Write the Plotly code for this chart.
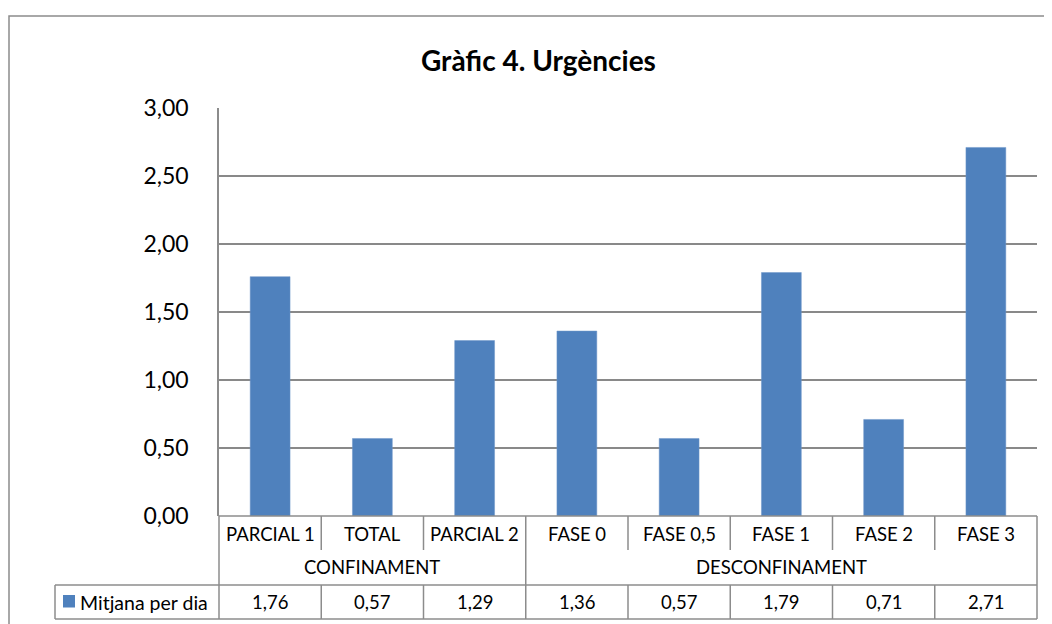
import plotly.graph_objects as go

categories = ["PARCIAL 1", "TOTAL", "PARCIAL 2", "FASE 0", "FASE 0,5", "FASE 1", "FASE 2", "FASE 3"]
groups = ["CONFINAMENT", "DESCONFINAMENT"]
group_sizes = [3, 5]
values = [1.76, 0.57, 1.29, 1.36, 0.57, 1.79, 0.71, 2.71]
series_name = "Mitjana per dia"
title_text = "Gràfic 4. Urgències"

FONT = "Lato"
BAR = "#4F81BD"
GRID = "#898989"
LINE = "#8C8C8C"

# page body margin (the html page places the figure 8px from the corner)
OFF = 8
W_FIG, H_FIG = 1052, 624
# target page pixel positions of the plot area
P_LEFT, P_RIGHT, P_TOP, P_BOT = 219, 1037, 108, 516
L = P_LEFT - OFF
R = W_FIG - (P_RIGHT - OFF)
T = P_TOP - OFF
B = H_FIG - (P_BOT - OFF)
PW = P_RIGHT - P_LEFT
PH = P_BOT - P_TOP


def px(x):
    return (x - P_LEFT) / PW


def py(y):
    return (P_BOT - y) / PH


n = len(categories)

fig = go.Figure()
fig.add_trace(go.Bar(
    x=list(range(n)), y=values, name=series_name,
    marker=dict(color=BAR, line=dict(color="#6F97C9", width=0.5)),
    width=0.39, showlegend=False, hoverinfo="skip",
))

shapes = []
annotations = []

row1_bot = 550
row2_bot = 585
row3_bot = 619


def vline(xp, y0, y1):
    shapes.append(dict(type="line", xref="paper", yref="paper", x0=xp, x1=xp,
                       y0=py(y0), y1=py(y1), line=dict(color=LINE, width=1.5)))


def hline(x0, x1, y):
    shapes.append(dict(type="line", xref="paper", yref="paper", x0=x0, x1=x1,
                       y0=py(y), y1=py(y), line=dict(color=LINE, width=1.5)))


# outer chart border
shapes.append(dict(type="rect", xref="paper", yref="paper", x0=px(9), x1=px(1075),
                   y0=py(645), y1=py(16), line=dict(color=LINE, width=1.5),
                   fillcolor="rgba(0,0,0,0)", layer="below"))

group_bounds = [0]
for s in group_sizes:
    group_bounds.append(group_bounds[-1] + s)

for i in range(n + 1):
    xb = i / n
    if i in group_bounds:
        vline(xb, P_BOT, row3_bot)
    else:
        vline(xb, P_BOT, row1_bot)
        vline(xb, row2_bot, row3_bot)

hline(0, 1, P_BOT)
hline(px(55), 1, row2_bot)
hline(px(55), 1, row3_bot)
vline(px(55), row2_bot, row3_bot)

TXT = dict(family=FONT, size=18.5, color="#000")

# legend key
shapes.append(dict(type="rect", xref="paper", yref="paper", x0=px(63), x1=px(75),
                   y0=py(607.5), y1=py(595), line=dict(width=0), fillcolor=BAR))
annotations.append(dict(text=series_name, xref="paper", yref="paper", x=px(78), y=py(602),
                        xanchor="left", yanchor="middle", showarrow=False,
                        font=dict(family=FONT, size=19.5, color="#000")))

for i, (c, v) in enumerate(zip(categories, values)):
    xc = (i + 0.5) / n
    annotations.append(dict(text=c, xref="paper", yref="paper", x=xc, y=py(534),
                            xanchor="center", yanchor="middle", showarrow=False, font=TXT))
    annotations.append(dict(text=f"{v:.2f}".replace(".", ","), xref="paper", yref="paper",
                            x=xc, y=py(602), xanchor="center", yanchor="middle",
                            showarrow=False, font=TXT))

for g, a, b in zip(groups, group_bounds[:-1], group_bounds[1:]):
    annotations.append(dict(text=g, xref="paper", yref="paper", x=(a + b) / 2 / n, y=py(567),
                            xanchor="center", yanchor="middle", showarrow=False, font=TXT))

annotations.append(dict(text=f"<b>{title_text}</b>", xref="paper", yref="paper",
                        x=px(538), y=py(60), xanchor="center", yanchor="middle",
                        showarrow=False, font=dict(family=FONT, size=28, color="#000")))

fig.update_layout(
    width=W_FIG, height=H_FIG,
    margin=dict(l=L, r=R, t=T, b=B, pad=0),
    paper_bgcolor="white", plot_bgcolor="white",
    separators=",.",
    shapes=shapes, annotations=annotations,
    xaxis=dict(range=[-0.5, n - 0.5], showticklabels=False, showgrid=False,
               zeroline=False, showline=False, ticks="", fixedrange=True),
    yaxis=dict(range=[0, 3], dtick=0.5, tick0=0, tickformat=".2f",
               showgrid=True, gridcolor=GRID, gridwidth=1.5,
               zeroline=False, showline=True, linecolor=LINE, linewidth=1.5,
               ticks="", ticklabelstandoff=24,
               tickfont=dict(family=FONT, size=23, color="#000"), fixedrange=True),
)

fig.write_html("out.html")
